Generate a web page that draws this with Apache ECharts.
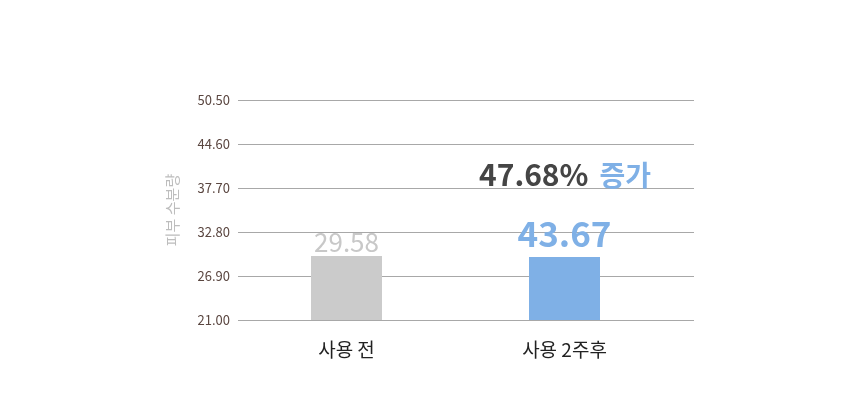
<!DOCTYPE html>
<html>
<head>
<meta charset="utf-8">
<script src="https://cdn.jsdelivr.net/npm/echarts@6/dist/echarts.min.js"></script>
<style>html,body{margin:0;padding:0;background:#fff}#c{width:860px;height:400px}</style>
</head>
<body>
<div id="c"></div>
<script>
const categories = ['사용 전', '사용 2주후'];
const barValues = [29.58, 29.45];          // bar heights as drawn in the picture
const valueLabels = ['29.58', '43.67'];     // value labels shown above bars
const tickLabels = ['21.00', '26.90', '32.80', '37.70', '44.60', '50.50'];
const axisBase = 21.0;
const axisStep = 5.9;
const yAxisName = '피부 수분량';
const increaseText = '47.68%';
const increaseWord = '증가';

const FONT = '"Noto Sans CJK KR", "Noto Sans", sans-serif';
const span = axisStep * (tickLabels.length - 1);

const chart = echarts.init(document.getElementById('c'), null, {renderer: 'canvas'});
chart.setOption({
  animation: false,
  backgroundColor: '#ffffff',
  textStyle: {fontFamily: FONT},
  title: {
    left: 474, top: 155,
    text: '{a|' + increaseText + '}{b|' + increaseWord + '}',
    textStyle: {
      rich: {
        a: {fontFamily: FONT, fontSize: 30, fontWeight: 'bold', color: '#454545'},
        b: {fontFamily: FONT, fontSize: 28, fontWeight: 'bold', color: '#7fb0e6', padding: [0, 0, 0, 11]}
      }
    }
  },
  grid: [
    {left: 238, right: 166, top: 100, bottom: 80, containLabel: false},
    {left: 237.5, right: 186.5, top: 100, bottom: 80, containLabel: false}
  ],
  xAxis: [
    {gridIndex: 0, type: 'category', data: categories, show: false},
    {
      gridIndex: 1, type: 'category', data: categories,
      axisLine: {show: false}, axisTick: {show: false},
      axisLabel: {fontFamily: FONT, fontSize: 19, color: '#222', margin: 20}
    }
  ],
  yAxis: [
    {
      gridIndex: 0, type: 'value', min: 0, max: span, interval: axisStep,
      name: yAxisName, nameLocation: 'middle', nameGap: 58, nameRotate: 90,
      nameTextStyle: {fontFamily: FONT, fontSize: 15, color: '#bdbdbd'},
      axisLine: {show: false}, axisTick: {show: false},
      axisLabel: {
        fontFamily: FONT, fontSize: 13, color: '#5a4640', margin: 8,
        formatter: v => tickLabels[Math.round(v / axisStep)]
      },
      splitLine: {lineStyle: {color: '#a8a8a8', width: 1}}
    },
    {gridIndex: 1, type: 'value', min: 0, max: span, interval: axisStep, show: false, splitLine: {show: false}}
  ],
  series: [{
    type: 'bar',
    xAxisIndex: 1, yAxisIndex: 1,
    barWidth: 71,
    data: barValues.map((v, i) => ({
      value: v - axisBase,
      itemStyle: {color: i === 0 ? '#cbcbcb' : '#7fb0e6'},
      label: i === 0 ? {
        show: true, position: 'top', distance: 1,
        formatter: valueLabels[i],
        fontFamily: FONT, fontSize: 26, color: '#c8c8c8'
      } : {
        show: true, position: 'top', distance: 6,
        formatter: valueLabels[i],
        fontFamily: FONT, fontSize: 35, fontWeight: 'bold', color: '#7fb0e6'
      }
    }))
  }]
});
</script>
</body>
</html>
